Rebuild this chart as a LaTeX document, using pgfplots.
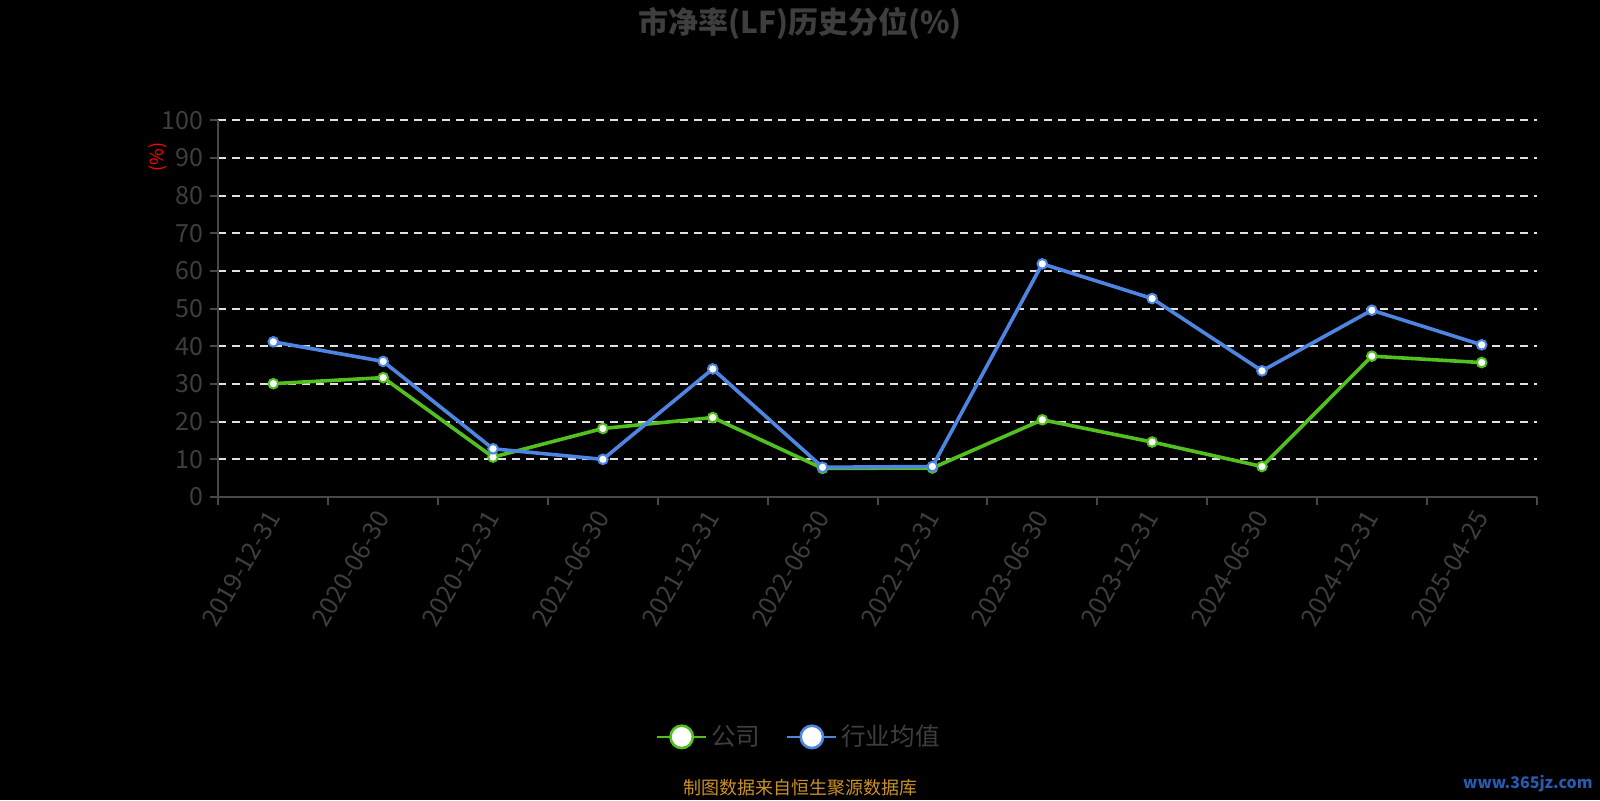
\documentclass[border=0pt]{standalone}
\usepackage{fontspec}
\setmainfont{Noto Sans CJK SC}
\usepackage{pgfplots}
\pgfplotsset{compat=1.18}
\definecolor{txtgray}{RGB}{62,62,62}
\definecolor{axgray}{RGB}{72,72,72}
\definecolor{gridc}{RGB}{225,225,225}
\definecolor{cgreen}{RGB}{82,192,30}
\definecolor{cblue}{RGB}{77,134,226}
\definecolor{srcc}{RGB}{205,145,35}
\definecolor{wmblue}{RGB}{40,90,175}
\begin{document}
\begin{tikzpicture}[x=1pt,y=1pt]
\path[use as bounding box, fill=black] (-109.2,-151.5) rectangle (690.8,248.5);
\begin{axis}[
  scale only axis, width=659.1pt, height=188.3pt,
  at={(0,0)}, anchor=south west,
  xmin=-0.5, xmax=11.5, ymin=0, ymax=100,
  axis x line*=bottom, axis y line*=left,
  axis line style={-, axgray, line width=1pt},
  tick style={axgray, line width=1pt},
  tick align=outside, major tick length=4pt,
  xtick={-0.5,0.5,1.5,2.5,3.5,4.5,5.5,6.5,7.5,8.5,9.5,10.5,11.5},
  xticklabels={},
  extra x ticks={0,1,2,3,4,5,6,7,8,9,10,11},
  extra x tick labels={2019-12-31,2020-06-30,2020-12-31,2021-06-30,2021-12-31,2022-06-30,2022-12-31,2023-06-30,2023-12-31,2024-06-30,2024-12-31,2025-04-25},
  extra x tick style={tick style={draw=none}, xticklabel style={rotate=60, anchor=east, text=txtgray, font=\fontsize{12.5}{14}\selectfont, yshift=-2pt}},
  ytick={0,10,20,30,40,50,60,70,80,90,100},
  yticklabel style={text=txtgray, font=\fontsize{12.5}{14}\selectfont},
  /pgf/number format/assume math mode=true,
  ymajorgrids, grid style={gridc, dash pattern=on 4pt off 3pt, line width=1pt},
  legend columns=2,
  legend style={at={(0.4412,-0.637)}, anchor=center, draw=none, fill=none, text=txtgray, font=\fontsize{12.3}{14}\selectfont, /tikz/every even column/.append style={column sep=11pt}},
  legend image code/.code={\draw[#1, line width=1pt] (0pt,0pt) -- (24.5pt,0pt); \draw[#1, fill=white, line width=1.3pt] (12.25pt,0pt) circle (5.6pt);},
]
\addplot[cgreen, line width=1.8pt, mark=*, mark size=2.4pt, mark options={fill=white, draw=cgreen, line width=1pt}] coordinates {
(0,30.1) (1,31.7) (2,10.6) (3,18.2) (4,21.1) (5,7.6) (6,7.7) (7,20.5) (8,14.6) (9,8.1) (10,37.4) (11,35.7)};
\addlegendentry{公司}
\addplot[cblue, line width=1.8pt, mark=*, mark size=2.4pt, mark options={fill=white, draw=cblue, line width=1pt}] coordinates {
(0,41.2) (1,36.0) (2,12.8) (3,10.0) (4,34.0) (5,7.9) (6,8.1) (7,61.9) (8,52.7) (9,33.5) (10,49.6) (11,40.4)};
\addlegendentry{行业均值}
\end{axis}
\node[text=txtgray, font=\fontsize{15}{18}\selectfont\bfseries] at (290.8,236.8) {市净率(LF)历史分位(\%)};
\node[text=red, rotate=90, font=\fontsize{9}{11}\selectfont] at (-30.2,170) {(\%)};
\node[text=srcc, font=\fontsize{9}{11}\selectfont] at (290.8,-145.5) {制图数据来自恒生聚源数据库};
\node[text=wmblue, anchor=east, font=\fontsize{8}{10}\selectfont\bfseries, inner sep=0pt] at (687.3,-143.5) {www.365jz.com};
\end{tikzpicture}
\end{document}
